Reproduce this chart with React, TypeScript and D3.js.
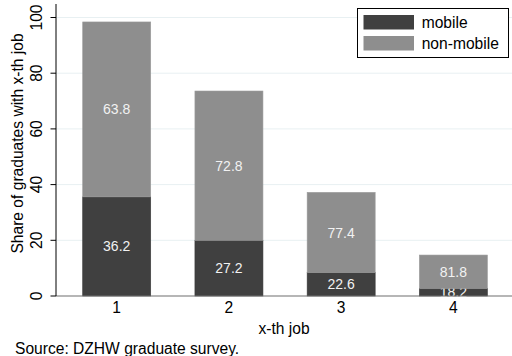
import React from "react";
import * as d3 from "d3";

const categories = ["1", "2", "3", "4"];
const mobileValues = [35.6, 20.0, 8.4, 2.7];
const nonMobileValues = [62.8, 53.6, 28.8, 12.0];
const mobileLabels = ["36.2", "27.2", "22.6", "18.2"];
const nonMobileLabels = ["63.8", "72.8", "77.4", "81.8"];
const yTicks = [0, 20, 40, 60, 80, 100];
const seriesNames = ["mobile", "non-mobile"];
const seriesColors = ["#404040", "#8e8e8e"];

const W = 512;
const H = 356;
const FONT = "Liberation Sans, Arial, Helvetica, sans-serif";
const FS = 15.6;

export default function App() {
  const x = d3
    .scaleBand<string>()
    .domain(categories)
    .range([60.6, 509.5])
    .paddingInner(0.394)
    .paddingOuter(0.197);
  const y = d3.scaleLinear().domain([0, 100]).range([296, 17.5]);

  const rows = categories.map((c, i) => ({
    cat: c,
    mobile: mobileValues[i],
    nonmobile: nonMobileValues[i],
  }));
  const stack = d3.stack<any>().keys(["mobile", "nonmobile"])(rows);
  const labelSets = [mobileLabels, nonMobileLabels];

  return (
    <svg
      width={W}
      height={H}
      style={{ position: "absolute", left: 0, top: 0, background: "#fff" }}
      fontFamily={FONT}
    >
      {/* gridlines */}
      {yTicks.slice(1).map((t) => (
        <line key={t} x1={56} x2={512} y1={y(t)} y2={y(t)} stroke="#e8f0f2" strokeWidth={1} />
      ))}
      {/* bars */}
      {stack.map((s, si) =>
        s.map((d, i) => (
          <g key={`${si}-${i}`}>
            <rect
              x={x(categories[i])!}
              width={x.bandwidth()}
              y={y(d[1])}
              height={y(d[0]) - y(d[1])}
              fill={seriesColors[si]}
              stroke={si === 0 ? "#3a3a3a" : "#9a9a9a"}
              strokeWidth={0.6}
            />
            <text
              x={x(categories[i])! + x.bandwidth() / 2}
              y={(y(d[0]) + y(d[1])) / 2}
              dy="0.36em"
              textAnchor="middle"
              fontSize={14}
              fill="#f2f2f2"
            >
              {labelSets[si][i]}
            </text>
          </g>
        ))
      )}
      {/* x-axis baseline */}
      <line x1={56} x2={512} y1={296} y2={296} stroke="#6e6e6e" strokeWidth={1.2} />
      {/* y axis */}
      <line x1={56} x2={56} y1={4} y2={296} stroke="#000" strokeWidth={1} />
      {yTicks.map((t) => (
        <g key={t}>
          <line x1={50.5} x2={56} y1={y(t)} y2={y(t)} stroke="#000" strokeWidth={1} />
          <text
            transform={`translate(41.7,${y(t)}) rotate(-90)`}
            textAnchor="middle"
            fontSize={FS}
            fill="#000"
          >
            {t}
          </text>
        </g>
      ))}
      <text
        transform={`translate(22.7,143.5) rotate(-90)`}
        textAnchor="middle"
        fontSize={FS}
        fill="#000"
      >
        Share of graduates with x-th job
      </text>
      {/* x tick labels */}
      {categories.map((c) => (
        <text
          key={c}
          x={x(c)! + x.bandwidth() / 2}
          y={313.3}
          textAnchor="middle"
          fontSize={FS}
          fill="#000"
        >
          {c}
        </text>
      ))}
      <text x={284} y={334} textAnchor="middle" fontSize={FS} fill="#000">
        x-th job
      </text>
      <text x={15} y={354.3} fontSize={FS} fill="#000">
        Source: DZHW graduate survey.
      </text>
      {/* legend */}
      <rect x={357.5} y={8.5} width={151} height={49} fill="#fff" stroke="#000" strokeWidth={1} />
      {seriesNames.map((n, i) => (
        <g key={n}>
          <rect x={363.5} y={15 + i * 21} width={50.5} height={14.5} fill={seriesColors[i]} />
          <text x={421.7} y={28.3 + i * 21} fontSize={FS} fill="#000">
            {n}
          </text>
        </g>
      ))}
    </svg>
  );
}
